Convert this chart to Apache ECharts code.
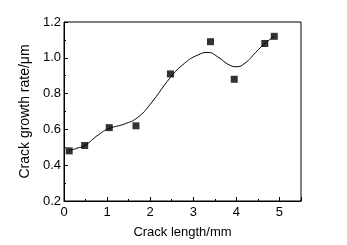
<!DOCTYPE html>
<html>
<head>
<meta charset="utf-8">
<script src="https://cdn.jsdelivr.net/npm/echarts@6/dist/echarts.min.js"></script>
<style>
  html, body { margin: 0; padding: 0; background: #fff; }
  #chart { width: 347px; height: 245px; }
</style>
</head>
<body>
<div id="chart"></div>
<script>
// measured points
const crackLength = [0.12, 0.48, 1.05, 1.67, 2.47, 3.40, 3.95, 4.66, 4.88]
const growthRate = [0.48, 0.51, 0.61, 0.62, 0.91, 1.09, 0.88, 1.08, 1.12]

// fitted curve
const curveX = [0.12, 0.3, 0.48, 0.8, 1.05, 1.4, 1.7, 2.0, 2.47, 2.8, 3.1, 3.34, 3.6, 3.8, 4.0, 4.2, 4.45, 4.66, 4.88]
const curveY = [0.48, 0.495, 0.51, 0.57, 0.605, 0.63, 0.665, 0.74, 0.89, 0.97, 1.015, 1.03, 1.0, 0.965, 0.95, 0.97, 1.03, 1.08, 1.12]

const font = 'Liberation Sans, Arial, sans-serif'

const chart = echarts.init(document.getElementById('chart'))

const option = {
  animation: false,
  grid: {
    left: 64,
    top: 22,
    width: 237,
    height: 179,
    show: true,
    borderColor: '#000',
    borderWidth: 1
  },
  xAxis: {
    type: 'value',
    min: 0,
    max: 5.5,
    interval: 1,
    name: 'Crack length/mm',
    nameLocation: 'middle',
    nameGap: 25,
    nameTextStyle: { color: '#000', fontSize: 13, fontFamily: font },
    axisLine: { lineStyle: { color: '#000' } },
    axisTick: { inside: true, length: 4, lineStyle: { color: '#000' } },
    minorTick: { show: true, splitNumber: 2, length: 2, lineStyle: { color: '#000' } },
    axisLabel: { color: '#000', fontSize: 13, fontFamily: font, margin: 5, showMaxLabel: false },
    splitLine: { show: false }
  },
  yAxis: {
    type: 'value',
    min: 0.2,
    max: 1.2,
    interval: 0.2,
    name: 'Crack growth rate/μm',
    nameLocation: 'middle',
    nameGap: 27,
    nameTextStyle: { color: '#000', fontSize: 14, fontFamily: font },
    axisLine: { show: true, lineStyle: { color: '#000' } },
    axisTick: { inside: true, length: 4, lineStyle: { color: '#000' } },
    minorTick: { show: true, splitNumber: 2, length: 2, lineStyle: { color: '#000' } },
    axisLabel: {
      color: '#000', fontSize: 13, fontFamily: font, margin: 3,
      formatter: function (v) { return v.toFixed(1) }
    },
    splitLine: { show: false }
  },
  series: [
    {
      type: 'line',
      smooth: true,
      symbol: 'none',
      lineStyle: { color: '#000', width: 1 },
      data: curveX.map((x, i) => [x, curveY[i]]),
      z: 2
    },
    {
      type: 'scatter',
      symbol: 'rect',
      symbolSize: 7,
      itemStyle: { color: '#000' },
      data: crackLength.map((x, i) => [x, growthRate[i]]),
      z: 3
    }
  ]
}

chart.setOption(option)
</script>
</body>
</html>
